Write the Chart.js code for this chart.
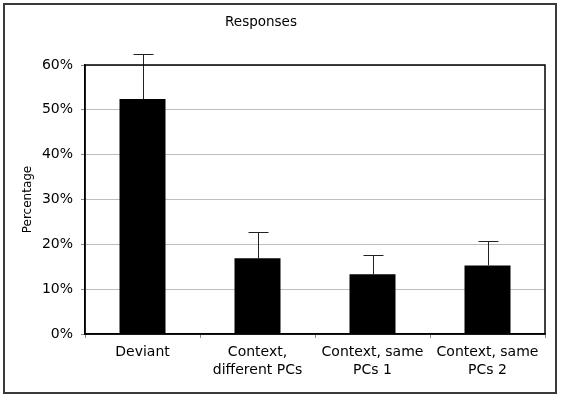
<!DOCTYPE html>
<html>
<head>
<meta charset="utf-8">
<script src="https://cdn.jsdelivr.net/npm/chart.js@4/dist/chart.umd.min.js"></script>
<style>
html,body{margin:0;padding:0;background:#fff;}
#wrap{width:562px;height:398px;position:relative;}
</style>
</head>
<body>
<div id="wrap"><canvas id="c" width="562" height="398"></canvas></div>
<script>
const chartTitle = 'Responses';
const categories = [["Deviant"], ["Context,", "different PCs"], ["Context, same", "PCs 1"], ["Context, same", "PCs 2"]];
const values = [52.4, 16.9, 13.3, 15.3];
const errors = [10.1, 5.9, 4.3, 5.4];
const yTicks = [0, 10, 20, 30, 40, 50, 60];

Chart.defaults.font.family = '"DejaVu Sans", Verdana, sans-serif';
Chart.defaults.color = '#000';

const frame = {
  id: 'frame',
  beforeDraw(chart) {
    const ctx = chart.ctx;
    ctx.save();
    ctx.fillStyle = '#fff';
    ctx.fillRect(0, 0, chart.width, chart.height);
    ctx.strokeStyle = '#3a3a3a';
    ctx.lineWidth = 2;
    ctx.strokeRect(4, 4, 552, 389);
    ctx.fillStyle = '#000';
    ctx.font = '13.5px "DejaVu Sans", Verdana, sans-serif';
    ctx.textAlign = 'center';
    ctx.textBaseline = 'middle';
    ctx.fillText(chartTitle, 261, 22);
    ctx.restore();
  },
  afterDatasetsDraw(chart) {
    const ctx = chart.ctx;
    const a = chart.chartArea;
    const ys = chart.scales.y;
    const meta = chart.getDatasetMeta(0);
    ctx.save();
    ctx.strokeStyle = '#222';
    ctx.lineWidth = 1;
    meta.data.forEach((bar, i) => {
      const x = Math.round(bar.x) + 0.5;
      const yTop = ys.getPixelForValue(values[i] + errors[i]);
      const yBase = ys.getPixelForValue(values[i]);
      ctx.beginPath();
      ctx.moveTo(x, yBase);
      ctx.lineTo(x, Math.round(yTop) + 0.5);
      ctx.moveTo(x - 10, Math.round(yTop) + 0.5);
      ctx.lineTo(x + 10, Math.round(yTop) + 0.5);
      ctx.stroke();
    });
    ctx.strokeStyle = '#000';
    ctx.lineWidth = 1.5;
    ctx.strokeRect(a.left, a.top, a.right - a.left, a.bottom - a.top);
    ctx.restore();
  }
};

new Chart(document.getElementById('c'), {
  type: 'bar',
  data: {
    labels: categories,
    datasets: [{
      data: values,
      backgroundColor: '#000',
      borderColor: '#000',
      borderWidth: 0,
      barPercentage: 0.4,
      categoryPercentage: 1.0
    }]
  },
  options: {
    responsive: false,
    animation: false,
    devicePixelRatio: 1,
    layout: { padding: { left: 0, right: 17, top: 65, bottom: 0 } },
    plugins: {
      legend: { display: false },
      tooltip: { enabled: false },
      title: { display: false }
    },
    scales: {
      x: {
        grid: { offset: true, drawOnChartArea: false, tickLength: 4, color: '#888', tickColor: '#888' },
        border: { color: '#000', width: 1.5 },
        ticks: { font: { size: 14, lineHeight: 1.35 }, padding: 4.5, color: '#000', maxRotation: 0, autoSkip: false },
        afterFit(s) { s.height = 64; }
      },
      y: {
        min: 0, max: 60,
        afterBuildTicks(s) { s.ticks = yTicks.map(v => ({ value: v })); },
        grid: { color: '#bdbdbd', tickColor: '#888', tickLength: 4, lineWidth: 1 },
        border: { color: '#000', width: 1.5 },
        ticks: { font: { size: 14 }, padding: 8, color: '#000', callback: v => v + '%' },
        title: { display: true, text: 'Percentage', color: '#000', font: { size: 12 }, padding: { top: 21, bottom: 0 } },
        afterFit(s) { s.width = 85; }
      }
    }
  },
  plugins: [frame]
});
</script>
</body>
</html>
